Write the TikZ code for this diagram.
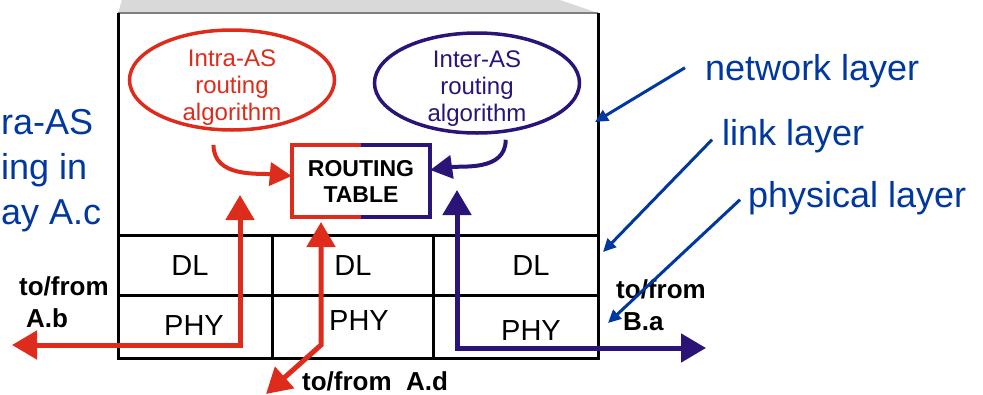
\documentclass[tikz,border=0pt]{standalone}
\usepackage{fontspec}
\setmainfont{Liberation Sans}
\usetikzlibrary{arrows.meta, shapes.geometric, positioning, calc}
\definecolor{rtred}{RGB}{222,44,28}
\definecolor{rtpurple}{RGB}{42,20,120}
\definecolor{lblblue}{RGB}{0,56,160}
\definecolor{boxgray}{RGB}{217,217,217}
\tikzset{
  cell/.style={draw=black, line width=3pt},
  layer/.style={font=\fontsize{29}{34}\selectfont, inner sep=0pt},
  algo/.style={ellipse, line width=3.5pt, minimum width=205pt, minimum height=100pt, inner sep=0pt},
  algotext/.style={align=center, font=\fontsize{24}{27}\selectfont, inner sep=0pt},
  rtbox/.style={rectangle, minimum width=138pt, minimum height=72pt, align=center,
                font=\bfseries\fontsize{23}{26}\selectfont, inner sep=0pt},
  port/.style={align=left, font=\bfseries\fontsize{26}{32}\selectfont, inner sep=0pt},
  layertag/.style={text=lblblue, font=\fontsize{36}{45}\selectfont, inner sep=0pt},
  feed/.style={line width=4pt, -{Triangle[length=22pt, width=23pt]}},
  flow/.style={line width=5pt, {Triangle[length=25pt, width=28pt]}-{Triangle[length=25pt, width=28pt]}},
  pointer/.style={draw=lblblue, line width=3pt, -{Triangle[length=13pt, width=12pt]}},
}
\begin{document}
\begin{tikzpicture}[x=1pt, y=-1pt]
  \useasboundingbox (0,0) rectangle (983,394);

  % router box with layers
  \fill[boxgray] (118,13) -- (122,0) -- (560,0) -- (598,13) -- cycle;
  \draw[gray, line width=1.5pt] (118,13) -- (598,13);
  \draw[cell] (118,13) -- (118,358) -- (598,358) -- (598,13);
  \draw[cell] (118,235) -- (598,235) (118,295) -- (598,295)
              (272,235) -- (272,358) (433,235) -- (433,358);

  \node[layer] (dl1)  at (190,266) {DL};
  \node[layer] (dl2)  at (353,266) {DL};
  \node[layer] (dl3)  at (531,266) {DL};
  \node[layer] (phy1) at (194,326) {PHY};
  \node[layer] (phy2) at (359,321) {PHY};
  \node[layer] (phy3) at (531,331) {PHY};

  % routing algorithms and table
  \node[algo, draw=rtred] (intra) at (232,80) {};
  \node[algotext, text=rtred] (intratext) at ([yshift=-8pt]intra.center) {Intra-AS\\routing\\algorithm};
  \node[algo, draw=rtpurple] (inter) at (477,83) {};
  \node[algotext, text=rtpurple] (intertext) at ([yshift=-6pt]inter.center) {Inter-AS\\routing\\algorithm};
  \node[rtbox] (rt) at (361,181) {ROUTING\\TABLE};
  \draw[rtred, line width=4pt] (rt.north) -- (rt.north west) -- (rt.south west) -- (rt.south);
  \draw[rtpurple, line width=4pt] (rt.north) -- (rt.north east) -- (rt.south east) -- (rt.south);

  \draw[feed, rtred] ([yshift=-14pt]intra.-110) to[out=-90, in=175] ([yshift=5pt]rt.west);
  \draw[feed, rtpurple] ([yshift=-7pt]inter.-60) to[out=-90, in=8] ([yshift=11pt]rt.east);

  % data paths
  \coordinate (abin)  at (240,195);
  \coordinate (about) at (12,345);
  \coordinate (adin)  at (321,222);
  \coordinate (adout) at (266,394);
  \coordinate (bain)  at (457,190);
  \coordinate (baout) at (706,348);
  \draw[flow, rtred] (abin) |- (about);
  \draw[flow, rtred] (adin) -- (adin |- about) -- (adout);
  \draw[flow, rtpurple] (bain) |- (baout);

  \node[port, anchor=north west] (ab) at (19,276) {to/from\\\hspace{7pt}A.b};
  \node[port, anchor=base west] (ad) at (302,390) {to/from\ \ A.d};
  \node[port, anchor=north west] (ba) at (616,279) {to/from\\\hspace{7pt}B.a};

  % layer labels
  \node[layertag, anchor=base west] (net)  at (705,80)  {network layer};
  \node[layertag, anchor=base west] (link) at (722,145) {link layer};
  \node[layertag, anchor=base west] (phys) at (748,207) {physical layer};
  \node[layertag, anchor=north west, align=left] (gw) at (1,109) {ra-AS\\ing in\\ay A.c};

  \coordinate (netpt)  at (595,122);
  \coordinate (linkpt) at (603,252);
  \coordinate (physpt) at (608,323);
  \draw[pointer] ([xshift=-20pt, yshift=3pt]net.west) -- (netpt);
  \draw[pointer] ([xshift=-10pt, yshift=-4pt]link.west) -- (linkpt);
  \draw[pointer] ([xshift=-8pt, yshift=-2pt]phys.west) -- (physpt);
\end{tikzpicture}
\end{document}
